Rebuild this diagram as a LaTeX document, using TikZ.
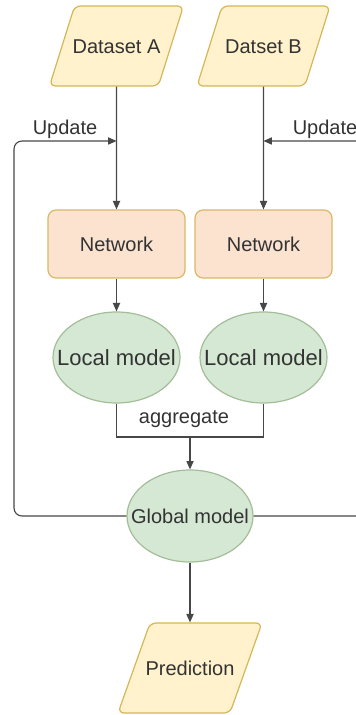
\documentclass[tikz,border=0pt]{standalone}
\usepackage{fontspec}
\setmainfont{Liberation Sans}
\usetikzlibrary{shapes.geometric,arrows.meta}
\definecolor{ioFill}{HTML}{FFF2CC}
\definecolor{ioLine}{HTML}{D6B656}
\definecolor{netFill}{HTML}{FBE3CF}
\definecolor{netLine}{HTML}{D9B869}
\definecolor{modFill}{HTML}{D5E8D4}
\definecolor{modLine}{HTML}{A3BD98}
\definecolor{wire}{HTML}{474747}
\definecolor{ink}{HTML}{333333}
\begin{document}
\begin{tikzpicture}[x=0.5pt,y=-0.5pt,
  font=\fontsize{10}{12}\selectfont, text=ink,
  iobox/.style={trapezium, trapezium left angle=72.6, trapezium right angle=107.4,
    trapezium stretches body, minimum width=66.5pt,
    text height=7.2pt, text depth=0pt, inner xsep=-1pt, inner ysep=16.4pt,
    fill=ioFill, draw=ioLine, line width=0.6pt, rounded corners=3pt},
  netbox/.style={rectangle, minimum width=68.5pt, minimum height=34pt,
    fill=netFill, draw=netLine, line width=0.6pt, rounded corners=4pt},
  modbox/.style={ellipse, minimum width=63.5pt, minimum height=45.5pt,
    inner xsep=-14pt, inner ysep=0pt,
    fill=modFill, draw=modLine, line width=0.6pt},
  wire/.style={draw=wire, line width=0.55pt},
  flow/.style={wire, -{Triangle[length=4.2pt,width=3.6pt]}}]
\useasboundingbox (0,0) rectangle (356,715);

% inputs
\node[iobox] (dsA) at (116.5,46) {Dataset A};
\node[iobox] (dsB) at (263.5,46) {Datset B};

% local networks
\node[netbox] (netA) at (116.5,244) {Network};
\node[netbox] (netB) at (263.5,244) {Network};

% local models
\node[modbox, font=\fontsize{11}{13}\selectfont] (locA) at (116.5,357.5) {Local model};
\node[modbox, font=\fontsize{11}{13}\selectfont] (locB) at (263.5,357.5) {Local model};

% global model and output
\node[modbox, minimum width=63pt, minimum height=46pt] (glob) at (190,516) {Global model};
\node[iobox, trapezium left angle=70.4, trapezium right angle=109.6,
  minimum width=72pt, inner xsep=-2.5pt, inner ysep=18.9pt] (pred) at (190,668) {Prediction};

% junction points
\coordinate (upA) at (116.5,141);
\coordinate (upB) at (263.5,141);
\coordinate (railL) at (14,141);
\coordinate (railR) at (380,141);
\coordinate (aggM) at (190,437);

% data flow
\draw[flow] (dsA) -- (netA);
\draw[flow] (dsB) -- (netB);
\draw[flow] (netA) -- (locA);
\draw[flow] (netB) -- (locB);

% aggregation
\draw[wire] (locA.south) |- (aggM) -| (locB.south);
\node at (184,419) {aggregate};
\draw[flow] (aggM) -- (glob);
\draw[flow] (glob) -- (pred);

% update feedback
\draw[flow, rounded corners=4pt] (glob.west) -| (railL) -- (upA);
\draw[flow, rounded corners=4pt] (glob.east) -| (railR) -- (upB);
\node at (65,129) {Update};
\node at (325,129) {Update};
\end{tikzpicture}
\end{document}
